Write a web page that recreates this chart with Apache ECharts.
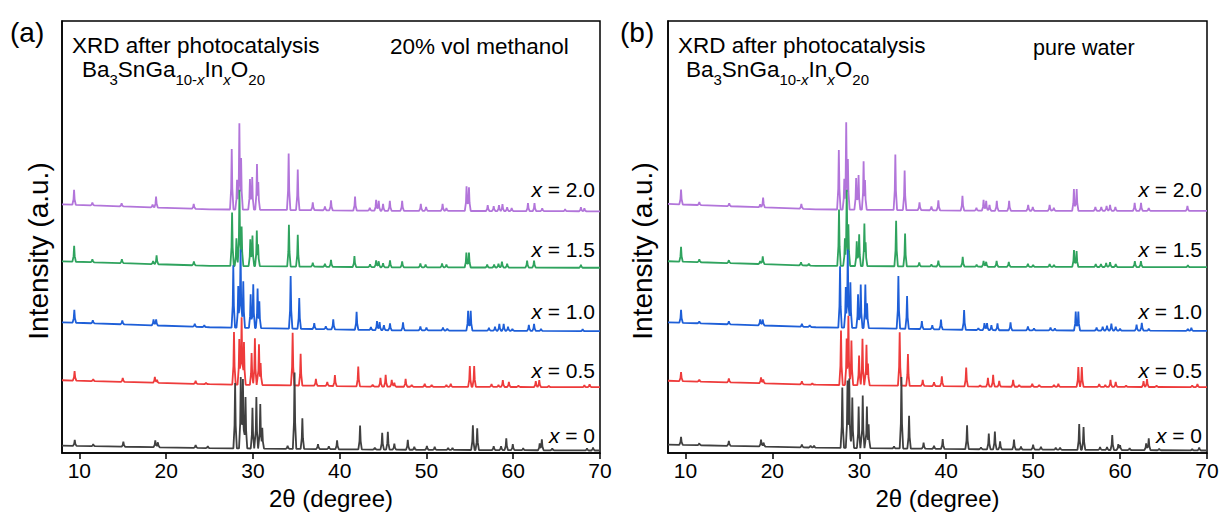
<!DOCTYPE html>
<html><head><meta charset="utf-8">
<script src="https://cdn.jsdelivr.net/npm/echarts@6/dist/echarts.min.js"></script>
<style>html,body{margin:0;padding:0;background:#fff}#c{width:1222px;height:515px}</style>
</head><body><div id="c"></div>
<script>
// ---------- tick labels / categories ----------
const xTicks = [10, 20, 30, 40, 50, 60, 70];
const compositions = ['2.0', '1.5', '1.0', '0.5', '0'];
const traceColors = ['#B275DA', '#2FA35E', '#1E5FD8', '#EE3B3B', '#404040'];

// ---------- background (2theta, offset intensity) ----------
const baseA20 = [[8,251],[25,246],[45,244.5],[70,244]];
const baseA15 = [[8,193.5],[25,189],[45,187.5],[70,187]];
const baseA10 = [[8,132],[25,127],[45,124],[70,123]];
const baseA05 = [[8,73.5],[25,69.5],[45,67],[70,66.5]];
const baseA00 = [[8,7.5],[25,5],[45,3.5],[70,2.6]];
const baseB20 = [[8,251.4],[25,246],[45,244.5],[70,244.4]];
const baseB15 = [[8,193.6],[25,189],[45,188],[70,187.6]];
const baseB10 = [[8,132],[25,127],[45,124],[70,123.3]];
const baseB05 = [[8,73],[25,69],[45,67],[70,66.6]];
const baseB00 = [[8,8.6],[25,5.5],[45,3.8],[70,2.6]];

// ---------- peaks [2theta, height] : (a) 20% vol methanol ----------
const peaksA20 = [[9.39,15],[11.5,3],[14.87,3],[18.44,3],[18.84,11],[23.18,5],[27.56,61],[28.17,30],[28.44,87],[28.64,52],[29.66,31],[29.92,33],[30.47,46],[30.62,28],[34.12,57],[35.17,41],[36.9,8],[38.3,4],[39.0,10],[41.77,14],[43.47,3],[44.2,11],[44.5,10],[45.0,7],[45.78,10],[47.2,10],[49.35,7],[49.96,4],[51.86,7],[52.3,3],[54.62,25],[54.9,24],[57.06,6],[57.75,5],[58.36,6],[58.76,7],[59.3,4],[59.82,3],[61.7,8],[62.45,8],[63.34,3],[65.98,2],[67.8,4],[68.2,3]];
const peaksA15 = [[9.4,16],[11.5,3],[14.9,4],[18.5,3],[18.9,9],[23.2,4],[27.6,54],[28.1,28],[28.45,77],[28.7,40],[29.7,27],[29.95,31],[30.45,36],[30.6,22],[34.15,42],[35.17,32],[36.9,4],[38.3,3],[39.0,7],[41.7,11],[43.5,3],[44.2,7],[44.5,6],[45.0,4],[45.8,7],[47.2,6],[49.3,4],[49.9,3],[51.8,4],[52.3,3],[54.6,15],[54.9,15],[57.0,3],[57.8,3],[58.3,4],[58.7,6],[59.3,4],[61.6,7],[62.4,7],[67.8,3]];
const peaksA10 = [[9.42,13],[11.55,3],[14.95,4],[18.55,6],[18.85,6],[23.3,3],[24.4,2],[27.74,63],[28.31,42],[28.58,79],[28.89,47],[29.74,34],[30.04,44],[30.54,40],[30.74,27],[34.35,53],[35.34,31],[37.07,6],[38.4,3],[39.26,10],[41.95,18],[43.6,3],[44.3,9],[44.6,8],[45.1,5],[45.8,7],[47.3,8],[49.3,4],[50.0,3],[51.9,3],[52.4,2],[54.8,20],[55.1,20],[57.2,3],[57.9,4],[58.4,7],[58.9,7],[59.4,4],[59.9,2],[61.8,6],[62.4,7],[63.2,2],[68.0,2]];
const peaksA05 = [[9.45,9.5],[11.6,2],[15.0,4],[18.7,6],[18.95,3],[23.4,3],[24.6,1.5],[27.82,53],[28.43,46],[28.7,68],[28.97,43],[29.85,32],[30.23,47],[30.7,41],[30.89,22],[34.58,53],[35.5,32],[37.26,7],[38.57,4],[39.45,11],[42.14,20],[43.8,2],[44.7,9],[45.3,12],[46.0,7],[46.3,4],[47.6,8],[48.3,2],[49.8,3],[50.6,2],[52.3,2],[52.8,3],[55.0,21],[55.5,21],[57.5,3],[58.3,2],[58.8,7],[59.5,5],[60.6,1.5],[62.6,6],[63.0,7],[64.1,1.5],[68.2,2],[68.8,3]];
const peaksA00 = [[9.47,6],[11.6,2],[15.07,5],[18.75,7],[19.05,5],[23.4,3],[24.8,2],[27.95,66],[28.6,72],[28.85,70],[29.15,52],[29.95,41],[30.4,52],[30.85,45],[31.08,21],[34.0,3],[34.8,77],[35.7,31],[37.5,5],[38.75,3],[39.7,9],[42.35,24],[44.05,2],[44.9,17],[45.55,18],[46.3,6],[47.85,10],[48.6,3],[50.05,4],[50.95,3],[52.5,2],[53.0,2],[55.35,25],[55.85,22],[57.75,4],[58.6,4],[59.2,12],[59.95,6],[61.15,2],[63.05,7],[63.3,11],[64.5,2],[68.5,2],[69.2,3]];

// ---------- peaks [2theta, height] : (b) pure water ----------
const peaksB20 = [[9.5,15],[11.6,3],[15.04,3],[18.6,3],[18.94,10],[23.34,5],[27.65,60],[28.28,31],[28.5,88],[28.69,51],[29.64,32],[29.92,35],[30.5,49],[30.66,30],[34.15,56],[35.22,40],[36.93,8],[38.3,4],[39.1,10],[41.87,15],[43.48,3],[44.3,11],[44.6,10],[44.98,6],[45.82,10],[47.24,10],[49.43,6],[49.96,4],[51.9,6],[52.38,3],[54.69,22],[55.01,22],[57.16,4],[57.84,4],[58.45,5],[58.85,6],[59.46,4],[61.68,8],[62.41,8],[63.3,3],[67.75,5]];
const peaksB15 = [[9.5,15],[11.6,3],[15.0,3],[18.6,3],[18.9,8],[23.3,3],[24.2,2],[27.67,57],[28.35,28],[28.56,77],[28.75,42],[29.71,25],[29.99,32],[30.59,43],[30.73,24],[34.24,46],[35.27,33],[36.9,4],[38.3,2],[39.1,6],[41.9,10],[43.5,2],[44.3,6],[44.6,5],[45.8,6],[47.2,5],[49.4,3],[50.0,2],[51.9,3],[52.4,2],[54.7,17],[55.0,16],[57.2,3],[57.8,3],[58.4,4],[58.85,5],[59.5,3],[61.7,6],[62.4,6],[67.8,2]];
const peaksB10 = [[9.5,13],[11.6,2],[15.0,3],[18.6,6],[18.9,6],[23.4,3],[24.3,2],[27.79,62],[28.45,41],[28.68,79],[28.98,46],[29.86,34],[30.17,44],[30.7,44],[30.9,25],[34.5,53],[35.5,33],[37.2,8],[38.4,4],[39.4,10],[42.06,20],[43.7,2],[44.4,7],[44.7,7],[45.2,5],[45.9,7],[47.4,8],[49.4,4],[50.1,2],[52.0,3],[52.5,2],[54.9,19],[55.2,19],[57.3,3],[58.0,4],[58.5,5],[59.0,7],[59.5,4],[60.0,2],[61.9,6],[62.5,8],[63.3,2],[67.8,2],[68.2,3]];
const peaksB05 = [[9.5,9],[11.6,2],[15.0,4],[18.7,6],[18.95,4],[23.4,3],[24.6,1.5],[27.9,55],[28.55,47],[28.75,70],[29.1,45],[29.98,30],[30.37,47],[30.83,41],[31.0,22],[34.65,54],[35.6,32],[37.3,6],[38.6,4],[39.5,10],[42.3,19],[43.9,1.5],[44.8,9],[45.4,12],[46.1,6],[47.7,7],[48.4,2],[49.9,3],[50.7,2],[52.4,2],[52.9,3],[55.2,20],[55.6,20],[57.6,3],[58.3,2],[58.9,7],[59.5,5],[60.7,1.5],[62.7,6],[63.1,8],[64.2,1.5],[68.3,1.5],[68.9,3]];
const peaksB00 = [[9.5,8],[11.6,2],[15.0,5],[18.7,7],[19.0,4],[23.4,3],[24.4,2],[24.8,2],[28.05,61],[28.65,68],[28.85,70],[29.2,51],[29.93,42],[30.4,53],[30.88,42],[31.08,24],[34.0,2],[34.85,72],[35.73,33],[37.4,6],[38.6,3],[39.6,10],[42.4,24],[44.0,2],[44.9,16],[45.6,18],[46.2,8],[47.8,10],[48.6,3],[50.0,5],[50.9,3],[52.6,2],[53.1,2],[55.3,26],[55.8,23],[57.7,3],[58.5,3],[59.1,15],[59.8,6],[60.0,5],[61.1,2],[63.0,7],[63.3,12],[64.5,1.5],[68.3,1.5],[69.1,3]];

const panelA = [[baseA20,peaksA20],[baseA15,peaksA15],[baseA10,peaksA10],[baseA05,peaksA05],[baseA00,peaksA00]];
const panelB = [[baseB20,peaksB20],[baseB15,peaksB15],[baseB10,peaksB10],[baseB05,peaksB05],[baseB00,peaksB00]];

// ---------- draw each pattern as sharp peaks on its background ----------
const W = 0.2; // half width of a drawn peak, degrees
function bgAt(base, x) {
  for (let i = 0; i < base.length - 1; i++) {
    const a = base[i], b = base[i + 1];
    if (x >= a[0] && x <= b[0]) return a[1] + (b[1] - a[1]) * (x - a[0]) / (b[0] - a[0]);
  }
  return x < base[0][0] ? base[0][1] : base[base.length - 1][1];
}
function shape(d) {
  d = Math.abs(d);
  if (d >= W) return 0;
  if (d <= W / 3) return 1 - 0.65 * d / (W / 3);
  return 0.35 * (W - d) / (W - W / 3);
}
function pattern(base, peaks) {
  let xs = base.map(p => p[0]);
  peaks.forEach(([p]) => { xs.push(p - W, p - W / 3, p, p + W / 3, p + W); });
  xs = Array.from(new Set(xs.map(v => +v.toFixed(4)))).filter(v => v >= 8 && v <= 70).sort((a, b) => a - b);
  return xs.map(x => {
    let m = 0;
    peaks.forEach(([p, h]) => { const v = h * shape(x - p); if (v > m) m = v; });
    return [x, bgAt(base, x) + m];
  });
}

const FONT = 'Liberation Sans, Arial, Helvetica, sans-serif';
const grids = [
  { left: 62, right: 622, top: 21, bottom: 58 },
  { left: 668, right: 15, top: 21, bottom: 58 }
];
function xAxisFor(i) {
  return {
    gridIndex: i, type: 'value', min: 8, max: 70,
    name: '2\u03b8 (degree)', nameLocation: 'middle', nameGap: 30,
    nameTextStyle: { fontSize: 24, color: '#000', fontFamily: FONT },
    axisLine: { show: true, onZero: false, lineStyle: { color: '#000', width: 1.5 } },
    axisTick: { show: true, customValues: xTicks, length: 6, lineStyle: { color: '#000', width: 1.5 } },
    axisLabel: { customValues: xTicks, fontSize: 21, color: '#000', fontFamily: FONT, margin: 7 },
    splitLine: { show: false }
  };
}
function yAxisFor(i) {
  return {
    gridIndex: i, type: 'value', min: 0, max: 436,
    axisLine: { show: true, lineStyle: { color: '#000', width: 1.5 } },
    axisTick: { show: false }, axisLabel: { show: false }, splitLine: { show: false }
  };
}
const series = [];
[panelA, panelB].forEach((panel, gi) => {
  panel.forEach(([base, peaks], k) => {
    series.push({
      type: 'line', xAxisIndex: gi, yAxisIndex: gi, name: 'x = ' + compositions[k],
      data: pattern(base, peaks), showSymbol: false, symbol: 'none', smooth: false,
      lineStyle: { color: traceColors[k], width: 1.8 }, silent: true, animation: false
    });
  });
});

const labelY = [189, 249, 311, 370, 435];
const graphic = [];
const rich = {
  n: { fontSize: 22.5, fontFamily: FONT, fill: '#000', lineHeight: 26, verticalAlign: 'top' },
  s: { fontSize: 15, fontFamily: FONT, fill: '#000', lineHeight: 16, padding: [14, 0, 0, 0], verticalAlign: 'top' },
  si: { fontSize: 15, fontFamily: FONT, fill: '#000', fontStyle: 'italic', lineHeight: 16, padding: [14, 0, 0, 0], verticalAlign: 'top' }
};
const formula = '{n|Ba}{s|3}{n|SnGa}{s|10-}{si|x}{n|In}{si|x}{n|O}{s|20}';
[[10, 72, 82, 390, 38], [620, 678, 686, 1033, 642]].forEach(([lx, tx, fx, cx, yx], gi) => {
  graphic.push({ type: 'text', x: lx, y: 32, style: { text: gi === 0 ? '(a)' : '(b)', fontSize: 28, fontFamily: FONT, fill: '#000', textVerticalAlign: 'middle' } });
  graphic.push({ type: 'text', x: tx, y: 45, style: { text: 'XRD after photocatalysis', fontSize: 22.5, fontFamily: FONT, fill: '#000', textVerticalAlign: 'middle' } });
  graphic.push({ type: 'text', x: fx, y: 58, style: { text: formula, rich: rich, fontFamily: FONT } });
  graphic.push({ type: 'text', x: cx, y: gi === 0 ? 46 : 48, style: { text: gi === 0 ? '20% vol methanol' : 'pure water', fontSize: gi === 0 ? 22.5 : 21.5, fontFamily: FONT, fill: '#000', textVerticalAlign: 'middle' } });
  graphic.push({ type: 'text', x: yx, y: 251, rotation: Math.PI / 2, style: { text: 'Intensity (a.u.)', fontSize: 28, fontFamily: FONT, fill: '#000', textAlign: 'center', textVerticalAlign: 'middle' } });
  const rx = gi === 0 ? 595 : 1202;
  compositions.forEach((c, k) => {
    graphic.push({ type: 'text', x: rx, y: labelY[k], style: {
      text: '{i|x}{t| = ' + c + '}', textAlign: 'right', textVerticalAlign: 'middle',
      rich: { i: { fontSize: 21, fontStyle: 'italic', fontFamily: FONT, fill: '#000' }, t: { fontSize: 21, fontFamily: FONT, fill: '#000' } } } });
  });
});

const chart = echarts.init(document.getElementById('c'), null, { renderer: 'svg' });
chart.setOption({
  animation: false,
  backgroundColor: '#fff',
  grid: grids.map(g => Object.assign({ show: true, borderColor: '#000', borderWidth: 1.5, backgroundColor: 'transparent' }, g)),
  xAxis: [xAxisFor(0), xAxisFor(1)],
  yAxis: [yAxisFor(0), yAxisFor(1)],
  series: series,
  graphic: graphic
});
</script>
</body></html>
